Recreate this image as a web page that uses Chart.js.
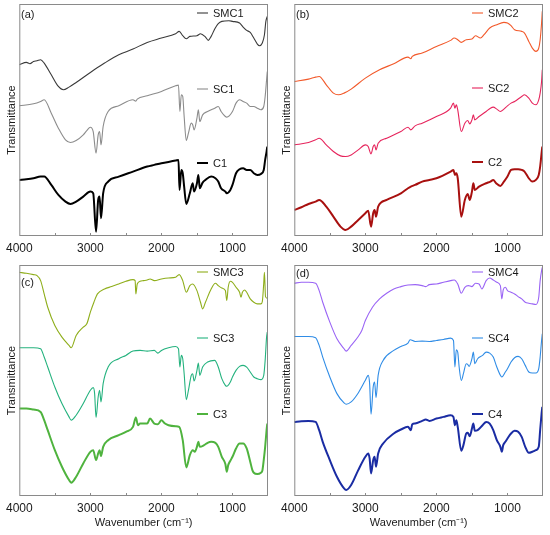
<!DOCTYPE html>
<html>
<head>
<meta charset="utf-8">
<script src="https://cdn.jsdelivr.net/npm/chart.js@4.4.0/dist/chart.umd.min.js"></script>
<style>
  body { margin: 0; background: #fff; }
  #wrap { position: relative; width: 550px; height: 535px; }
  canvas { position: absolute; }
</style>
</head>
<body>
<div id="wrap">
  <canvas id="pa" width="275" height="260" style="left:0;top:0"></canvas>
  <canvas id="pb" width="275" height="260" style="left:275px;top:0"></canvas>
  <canvas id="pc" width="275" height="275" style="left:0;top:260px"></canvas>
  <canvas id="pd" width="275" height="275" style="left:275px;top:260px"></canvas>
</div>
<script>
// FTIR spectra, [wavenumber, transmittance (a.u.)]
const SMC1 = [[4000,513],[3900,520],[3850,516],[3800,523],[3750,525],[3700,528],[3650,518],[3550,483],[3450,448],[3380,438],[3300,446],[3200,460],[3000,490],[2800,518],[2600,543],[2400,560],[2200,580],[2000,593],[1800,606],[1750,613],[1700,600],[1650,591],[1600,598],[1500,600],[1450,606],[1380,596],[1340,586],[1300,598],[1250,620],[1200,636],[1150,643],[1050,645],[1000,643],[900,638],[850,626],[800,616],[750,610],[700,593],[650,575],[620,570],[580,578],[550,603],[530,643],[510,658]];
const SC1 = [[4000,390],[3800,396],[3700,403],[3650,408],[3550,368],[3450,323],[3350,288],[3280,280],[3200,286],[3100,303],[3050,316],[3000,326],[2960,313],[2920,248],[2890,303],[2870,313],[2850,273],[2820,328],[2750,373],[2600,390],[2400,408],[2360,404],[2340,410],[2200,420],[2000,433],[1800,450],[1760,452],[1740,373],[1720,423],[1700,418],[1680,358],[1650,286],[1620,308],[1580,338],[1560,333],[1540,318],[1500,353],[1480,378],[1460,343],[1420,363],[1350,373],[1250,383],[1200,388],[1160,373],[1100,358],[1080,356],[1000,373],[950,398],[900,408],[850,403],[800,398],[750,388],[700,388],[650,383],[600,378],[560,388],[540,418],[520,468],[510,493]];
const C1 = [[4000,168],[3900,170],[3800,173],[3700,178],[3650,178],[3550,153],[3450,123],[3350,103],[3280,96],[3200,103],[3100,118],[3000,133],[2960,128],[2920,13],[2890,108],[2870,118],[2850,53],[2820,128],[2750,163],[2600,178],[2400,193],[2200,208],[2100,213],[2000,218],[1800,226],[1760,228],[1745,138],[1720,198],[1700,188],[1680,148],[1650,96],[1600,128],[1560,158],[1540,133],[1500,158],[1480,183],[1460,143],[1420,160],[1380,168],[1300,178],[1240,173],[1200,163],[1160,143],[1100,133],[1080,128],[1030,138],[1000,153],[950,188],[900,200],[850,203],[800,198],[750,198],[700,188],[650,183],[600,186],[560,198],[540,228],[520,253],[510,268]];

const SMC2 = [[4000,463],[3800,470],[3700,476],[3650,478],[3550,453],[3450,428],[3380,423],[3300,428],[3200,440],[3000,473],[2800,498],[2600,516],[2400,536],[2360,531],[2340,538],[2200,548],[2000,568],[1800,586],[1750,593],[1700,588],[1650,580],[1580,588],[1500,590],[1450,600],[1380,593],[1330,603],[1250,623],[1150,633],[1050,640],[1000,638],[950,630],[900,618],[800,613],[760,608],[700,583],[650,563],[600,553],[560,563],[540,588],[520,638],[510,673]];
const SC2 = [[4000,273],[3800,280],[3700,288],[3650,293],[3550,273],[3450,253],[3350,240],[3280,238],[3200,243],[3100,258],[3000,273],[2960,268],[2920,246],[2890,268],[2870,273],[2850,258],[2820,278],[2700,293],[2500,313],[2400,326],[2360,318],[2300,330],[2200,338],[2000,358],[1800,383],[1760,398],[1740,383],[1720,393],[1700,378],[1650,313],[1600,338],[1560,346],[1530,336],[1500,348],[1480,363],[1460,348],[1400,358],[1300,373],[1240,383],[1200,386],[1150,380],[1100,373],[1050,380],[1000,390],[950,398],[900,403],[800,418],[760,423],[700,413],[650,398],[600,393],[560,408],[540,428],[520,463],[510,498]];
const C2 = [[4000,78],[3900,86],[3800,96],[3700,103],[3650,108],[3550,88],[3450,58],[3350,28],[3280,18],[3200,28],[3100,48],[3000,68],[2960,76],[2920,28],[2890,68],[2870,78],[2850,58],[2820,88],[2700,108],[2500,128],[2400,143],[2360,148],[2300,153],[2200,163],[2100,168],[2000,173],[1800,193],[1760,198],[1740,183],[1720,188],[1700,173],[1650,58],[1600,108],[1560,126],[1530,108],[1500,133],[1480,158],[1460,138],[1400,148],[1300,158],[1240,163],[1200,168],[1160,158],[1100,150],[1050,163],[1000,178],[950,198],[900,200],[850,200],[800,198],[760,193],[700,173],[650,163],[600,168],[560,183],[540,208],[520,248],[510,268]];

const SMC3 = [[4000,673],[3900,670],[3800,666],[3750,663],[3700,648],[3650,608],[3600,568],[3500,513],[3400,478],[3300,453],[3270,446],[3200,483],[3100,508],[3050,518],[3000,553],[2950,583],[2900,608],[2800,623],[2700,630],[2600,638],[2500,646],[2400,651],[2370,648],[2360,608],[2340,638],[2300,646],[2250,648],[2200,650],[2160,653],[2100,648],[2000,653],[1900,656],[1800,658],[1750,666],[1700,648],[1650,613],[1600,633],[1560,638],[1500,618],[1450,583],[1420,563],[1380,583],[1300,623],[1240,640],[1200,633],[1150,626],[1100,618],[1080,588],[1060,628],[1030,646],[1000,643],[950,628],[900,613],[880,598],[860,613],[830,620],[800,613],[750,593],[700,583],[650,578],[600,578],[580,585],[560,640],[550,673],[535,600],[510,595]];
const SC3 = [[4000,446],[3900,446],[3800,446],[3700,443],[3650,418],[3600,388],[3500,328],[3400,278],[3300,238],[3270,228],[3200,243],[3100,278],[3000,318],[2960,326],[2940,308],[2920,236],[2890,298],[2870,318],[2850,283],[2820,338],[2750,388],[2600,413],[2500,423],[2400,436],[2300,438],[2200,436],[2100,438],[2050,430],[2000,438],[1900,446],[1800,450],[1760,443],[1740,388],[1720,423],[1700,413],[1680,368],[1650,290],[1620,318],[1580,363],[1560,368],[1540,346],[1500,378],[1480,400],[1460,363],[1420,388],[1350,403],[1250,408],[1200,388],[1150,353],[1100,333],[1080,330],[1030,343],[1000,358],[950,378],[900,390],[850,393],[800,388],[750,373],[700,358],[650,353],[600,350],[560,363],[540,408],[520,478],[510,493]];
const C3 = [[4000,263],[3900,263],[3800,260],[3700,253],[3650,228],[3600,198],[3500,138],[3400,88],[3300,48],[3270,40],[3200,58],[3100,98],[3000,133],[2960,138],[2920,108],[2890,128],[2870,138],[2850,120],[2820,148],[2750,168],[2600,183],[2500,193],[2400,208],[2360,236],[2330,213],[2300,218],[2200,218],[2160,233],[2100,218],[2050,216],[2000,228],[1950,218],[1900,213],[1800,210],[1750,208],[1700,168],[1650,86],[1600,123],[1560,138],[1530,133],[1500,148],[1480,163],[1460,148],[1400,153],[1350,160],[1300,163],[1240,160],[1200,148],[1150,118],[1100,96],[1080,73],[1060,93],[1030,106],[1000,118],[950,143],[900,158],[850,158],[800,143],[750,103],[720,78],[700,70],[650,66],[600,70],[580,76],[560,108],[540,148],[520,198],[510,218]];

const SMC4 = [[4000,640],[3900,643],[3800,643],[3700,640],[3650,618],[3600,583],[3500,523],[3400,473],[3300,443],[3270,436],[3200,453],[3100,480],[3050,498],[3000,528],[2900,568],[2800,593],[2700,610],[2600,623],[2500,630],[2400,635],[2300,636],[2200,633],[2150,630],[2100,636],[2000,638],[1900,643],[1800,648],[1750,650],[1700,638],[1650,610],[1600,628],[1550,633],[1500,630],[1450,640],[1400,638],[1360,623],[1300,648],[1250,656],[1200,650],[1150,643],[1100,633],[1080,593],[1060,620],[1030,628],[1000,618],[950,613],[900,608],[850,600],[800,593],[750,583],[700,580],[650,578],[600,576],[560,598],[540,648],[520,678],[510,688]];
const SC4 = [[4000,480],[3900,480],[3800,480],[3700,476],[3650,453],[3600,418],[3500,358],[3400,308],[3300,280],[3270,276],[3200,283],[3100,310],[3000,348],[2960,363],[2940,338],[2920,246],[2890,328],[2870,343],[2850,296],[2820,363],[2750,408],[2600,438],[2500,450],[2400,460],[2370,470],[2300,465],[2200,466],[2100,465],[2000,468],[1900,471],[1800,475],[1760,468],[1740,388],[1720,440],[1700,433],[1680,388],[1650,348],[1620,368],[1580,398],[1560,396],[1540,390],[1500,413],[1480,433],[1460,398],[1420,413],[1350,423],[1300,433],[1250,430],[1200,418],[1150,388],[1100,363],[1080,358],[1030,373],[1000,383],[950,403],[900,416],[850,420],[800,413],[750,393],[700,373],[650,370],[600,370],[560,383],[540,418],[520,468],[510,488]];
const C4 = [[4000,223],[3900,225],[3800,226],[3700,223],[3650,198],[3600,163],[3500,108],[3400,58],[3300,23],[3270,18],[3200,33],[3100,78],[3000,118],[2960,128],[2940,113],[2920,68],[2890,108],[2870,118],[2850,88],[2820,128],[2750,158],[2600,188],[2500,200],[2400,208],[2360,198],[2340,216],[2300,218],[2200,226],[2150,230],[2100,226],[2000,233],[1900,238],[1800,243],[1760,238],[1740,213],[1720,228],[1700,208],[1650,136],[1620,153],[1580,188],[1560,190],[1530,180],[1500,203],[1480,218],[1460,196],[1420,198],[1350,213],[1300,223],[1250,218],[1200,198],[1150,168],[1100,148],[1080,133],[1060,153],[1030,163],[1000,173],[950,188],[900,196],[850,193],[800,178],[750,148],[700,130],[650,133],[600,138],[560,148],[540,198],[520,248],[510,268]];

const xTicks = [4000, 3000, 2000, 1000];

const FONT = "'Liberation Sans', Arial, sans-serif";

// frame, inward ticks, in-plot legend and panel letter
const panelDeco = {
  id: 'panelDeco',
  afterDraw(chart) {
    const { ctx, chartArea: a, scales } = chart;
    const o = chart.options.plugins.panelDeco;
    ctx.save();
    ctx.strokeStyle = '#8a8a8a';
    ctx.lineWidth = 1;
    ctx.strokeRect(a.left + 0.5, a.top + 0.5, a.right - a.left - 1, a.bottom - a.top - 1);
    for (let w = 3500; w > 500; w -= 500) {
      const px = Math.round(scales.x.getPixelForValue(w)) + 0.5;
      ctx.beginPath();
      ctx.moveTo(px, a.bottom);
      ctx.lineTo(px, a.bottom - 3);
      ctx.stroke();
    }
    ctx.font = '11px ' + FONT;
    ctx.fillStyle = '#1a1a1a';
    ctx.textBaseline = 'middle';
    ctx.fillText(o.tag, o.tagX, o.tagY);
    chart.data.datasets.forEach((ds, i) => {
      const y = o.legendY[i];
      ctx.strokeStyle = ds.borderColor;
      ctx.lineWidth = ds.borderWidth;
      ctx.beginPath();
      ctx.moveTo(197, y);
      ctx.lineTo(208, y);
      ctx.stroke();
      ctx.fillText(ds.label, 213, y + 0.5);
    });
    ctx.restore();
  }
};

function makePanel(id, names, series, colors, widths, deco, showTitle) {
  const canvas = document.getElementById(id);
  const h = canvas.height;
  new Chart(canvas.getContext('2d'), {
    type: 'line',
    data: {
      datasets: series.map((s, i) => ({
        label: names[i],
        data: s.map(p => ({ x: p[0], y: p[1] })),
        borderColor: colors[i],
        borderWidth: widths[i],
        pointRadius: 0,
        cubicInterpolationMode: 'monotone',
        fill: false
      }))
    },
    options: {
      responsive: false,
      animation: false,
      layout: { padding: { left: 0, right: 7, top: deco.top, bottom: 0 } },
      plugins: {
        legend: { display: false },
        tooltip: { enabled: false },
        panelDeco: deco
      },
      scales: {
        x: {
          type: 'linear',
          reverse: true,
          min: 500,
          max: 4000,
          afterBuildTicks: s => { s.ticks = xTicks.map(v => ({ value: v })); },
          afterFit: s => { s.height = h - 236; },
          grid: { display: false, drawTicks: false },
          border: { display: false },
          ticks: {
            autoSkip: false,
            maxRotation: 0,
            padding: 5,
            color: '#1a1a1a',
            font: { family: FONT, size: 12 },
            callback: v => String(v)
          },
          title: {
            display: showTitle,
            text: 'Wavenumber (cm\u207B\u00B9)',
            color: '#1a1a1a',
            font: { family: FONT, size: 11 },
            padding: { top: 0, bottom: 5 }
          }
        },
        y: {
          min: 0,
          max: 695,
          afterFit: s => { s.width = 19.3; },
          grid: { display: false, drawTicks: false },
          border: { display: false },
          ticks: { display: false },
          title: {
            display: true,
            text: 'Transmittance',
            color: '#1a1a1a',
            font: { family: FONT, size: 11 },
            padding: { top: 5, bottom: 0 }
          }
        }
      }
    },
    plugins: [panelDeco]
  });
}

makePanel('pa', ['SMC1', 'SC1', 'C1'], [SMC1, SC1, C1],
  ['#3a3a3a', '#8c8c8c', '#000000'], [1.1, 1.1, 2],
  { top: 4, tag: '(a)', tagX: 21, tagY: 15, legendY: [13, 89, 163] }, false);
makePanel('pb', ['SMC2', 'SC2', 'C2'], [SMC2, SC2, C2],
  ['#f2592a', '#e6245c', '#a8100f'], [1.1, 1.1, 2],
  { top: 4, tag: '(b)', tagX: 21, tagY: 15, legendY: [13, 88, 162] }, false);
makePanel('pc', ['SMC3', 'SC3', 'C3'], [SMC3, SC3, C3],
  ['#8fae1b', '#24b27e', '#4fb33e'], [1.1, 1.1, 2],
  { top: 5, tag: '(c)', tagX: 21, tagY: 23, legendY: [12, 78, 154] }, true);
makePanel('pd', ['SMC4', 'SC4', 'C4'], [SMC4, SC4, C4],
  ['#9a64f5', '#2f8ce6', '#1a2ca3'], [1.1, 1.1, 2],
  { top: 5, tag: '(d)', tagX: 21, tagY: 14, legendY: [12, 78, 154] }, true);
</script>
</body>
</html>
